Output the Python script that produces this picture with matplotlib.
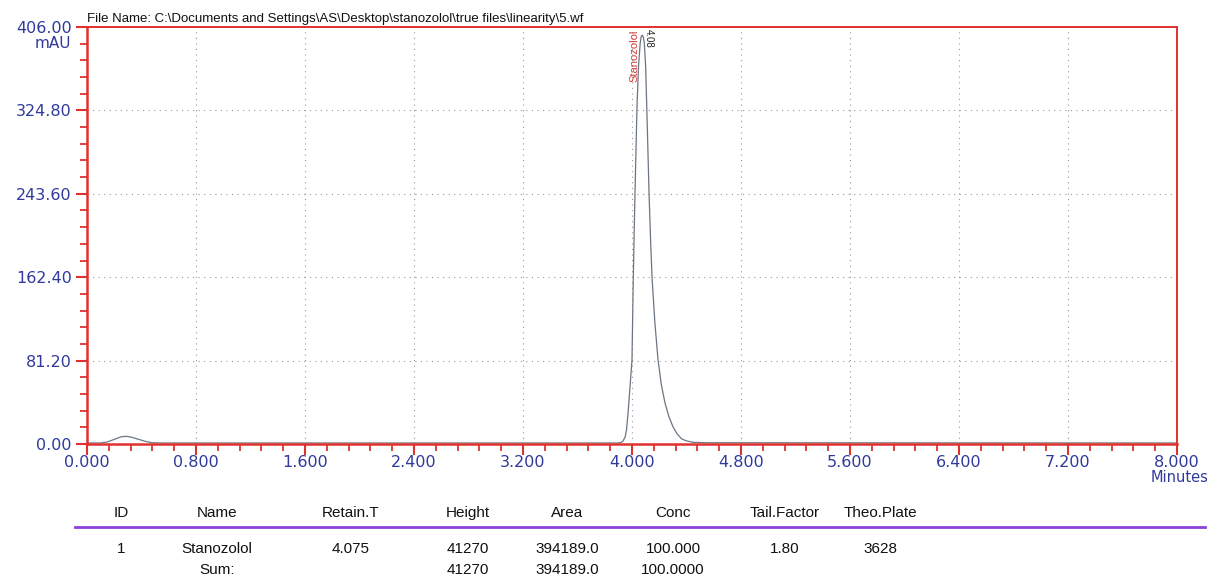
import matplotlib.pyplot as plt
from matplotlib.ticker import MultipleLocator, FormatStrFormatter

# chromatogram trace (minutes, mAU)
time_min = [0.00, 0.10, 0.15, 0.20, 0.25, 0.29, 0.33, 0.38, 0.43, 0.48, 0.55,
            3.90, 3.92, 3.935, 3.95, 3.96, 3.971, 3.985, 4.000, 4.008, 4.015,
            4.022, 4.030, 4.037, 4.048, 4.060, 4.068, 4.075, 4.083, 4.090,
            4.100, 4.108, 4.116, 4.125, 4.136, 4.147, 4.168, 4.191, 4.215,
            4.242, 4.270, 4.300, 4.330, 4.364, 4.400, 4.450, 4.550, 8.00]
signal_mau = [1, 1, 2, 4.5, 7, 7.5, 6.5, 4.5, 2.5, 1.2, 1,
              1, 1.5, 3, 7, 14, 30, 55, 82, 150, 200,
              244, 290, 330, 368, 390, 397, 398, 396, 391,
              368, 330, 290, 244, 200, 162, 118, 82, 58,
              40, 27, 17, 10, 5, 3, 1.6, 1.2, 1]

peak_name = "Stanozolol"
peak_time = 4.075
peak_label = "4.08"

file_name = r"File Name: C:\Documents and Settings\AS\Desktop\stanozolol\true files\linearity\5.wf"

# results table
table_header = ["ID", "Name", "Retain.T", "Height", "Area", "Conc", "Tail.Factor", "Theo.Plate"]
table_row = ["1", "Stanozolol", "4.075", "41270", "394189.0", "100.000", "1.80", "3628"]
sum_row = ["", "Sum:", "", "41270", "394189.0", "100.0000", "", ""]
col_x = [121, 217, 351, 468, 567, 673, 785, 880]

W, H = 1213, 580
red = "#e0312f"
blue = "#2f3a9c"

fig = plt.figure(figsize=(W / 100, H / 100), dpi=100)
ax = fig.add_axes([87 / W, 1 - 444 / H, 1090 / W, 417 / H])

ax.plot(time_min, signal_mau, color="#6b7682", lw=0.9)

ax.set_xlim(0, 8)
ax.set_ylim(0, 406)
ax.xaxis.set_major_locator(MultipleLocator(0.8))
ax.xaxis.set_minor_locator(MultipleLocator(0.16))
ax.yaxis.set_major_locator(MultipleLocator(81.2))
ax.yaxis.set_minor_locator(MultipleLocator(16.24))
ax.xaxis.set_major_formatter(FormatStrFormatter("%.3f"))
ax.yaxis.set_major_formatter(FormatStrFormatter("%.2f"))

ax.grid(True, which="major", color="#9a9a9a", ls=(0, (1, 4)), lw=0.8)
for s in ax.spines.values():
    s.set_color(red)
    s.set_linewidth(1.4)
ax.spines["bottom"].set_linewidth(1.8)
ax.spines["left"].set_linewidth(1.8)

ax.tick_params(which="major", direction="out", length=8, width=1.5, color=red,
               labelcolor=blue, labelsize=11.5, pad=0)
ax.tick_params(which="minor", direction="out", length=5, width=1.3, color=red)
ax.tick_params(axis="y", which="major", pad=3)
ax.tick_params(top=False, right=False)
for lab in ax.get_xticklabels() + ax.get_yticklabels():
    lab.set_family("DejaVu Sans")

# "mAU" under the top y label, "Minutes" under the last x label
ax.annotate("mAU", xy=(0, 406), xycoords="data", xytext=(-16, -16),
            textcoords="offset pixels", ha="right", va="center",
            color=blue, fontsize=11)
ax.annotate("Minutes", xy=(8, 0), xycoords="data", xytext=(3, -33),
            textcoords="offset pixels", ha="center", va="center",
            color=blue, fontsize=10.5)

# file name above the frame
ax.text(0, 1.004, file_name, transform=ax.transAxes, ha="left", va="bottom",
        fontsize=9.5, family="Liberation Sans", color="#111111")

# peak annotations
ax.text(peak_time - 0.06, 403, peak_name, rotation=90, ha="center", va="top",
        fontsize=8, family="Liberation Sans", color="#d23a3a")
ax.text(peak_time + 0.045, 404, peak_label, rotation=270, ha="center", va="top",
        fontsize=7, family="Liberation Sans", color="#222222")

# table under the plot
def put_row(values, y):
    for x, v in zip(col_x, values):
        if v:
            fig.text(x / W, 1 - y / H, v, ha="center", va="center",
                     fontsize=11, family="Liberation Sans", color="#111111")

put_row(table_header, 513)
fig.add_artist(plt.Line2D([75 / W, 1205 / W], [1 - 527 / H, 1 - 527 / H],
                          color="#8b43d8", lw=2))
put_row(table_row, 549)
put_row(sum_row, 570)

fig.savefig("out.png", dpi=100, facecolor="white")
